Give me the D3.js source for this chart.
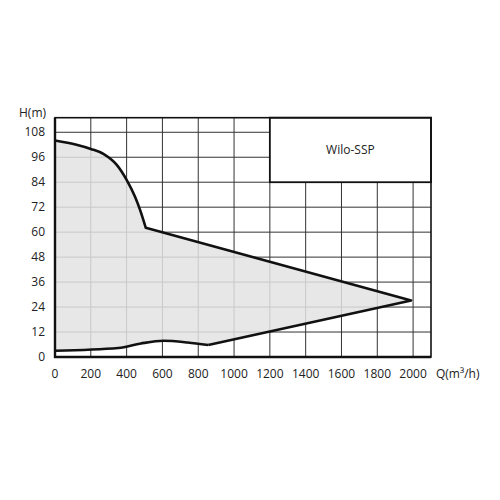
<!DOCTYPE html>
<html><head><meta charset="utf-8">
<script src="https://cdn.jsdelivr.net/npm/d3@7"></script>
<style>body{margin:0;background:#fff}svg{display:block}text{font-family:"Open Sans","DejaVu Sans",sans-serif;fill:#222}</style>
</head><body><svg id="c" width="500" height="500"></svg>
<script>
const xTicks = [0,200,400,600,800,1000,1200,1400,1600,1800,2000];
const yTicks = [0,12,24,36,48,60,72,84,96,108];
// upper envelope (Q, H)
const upperQ = [0, 120, 200, 270, 345, 400, 447, 475, 507, 1989];
const upperH = [104, 102, 100, 97.6, 92.3, 85.1, 77, 70.7, 62.1, 27.2];
// lower envelope, from the tip back to Q=0
const lowerQ = [1989, 856, 740, 605, 480, 354, 0];
const lowerH = [27.2, 5.8, 7.0, 7.8, 6.5, 4.3, 3.0];
const title = "Wilo-SSP";

const svg = d3.select("#c");
const x = d3.scaleLinear().domain([0,2100]).range([55,431]);
const y = d3.scaleLinear().domain([0,115]).range([357,117.7]);

// grid
svg.append("g").selectAll("line").data(xTicks.slice(1)).join("line")
  .attr("x1",d=>x(d)).attr("x2",d=>x(d)).attr("y1",y(0)).attr("y2",y(115))
  .attr("stroke","#333").attr("stroke-width",1);
svg.append("g").selectAll("line").data(yTicks.slice(1)).join("line")
  .attr("x1",x(0)).attr("x2",x(2100)).attr("y1",d=>y(d)).attr("y2",d=>y(d))
  .attr("stroke","#333").attr("stroke-width",1);

// area
const upper = upperQ.map((q,i)=>[q,upperH[i]]);
const lower = lowerQ.map((q,i)=>[q,lowerH[i]]);
const topLine = d3.line().x(d=>x(d[0])).y(d=>y(d[1])).curve(d3.curveMonotoneX);
const linLine = d3.line().x(d=>x(d[0])).y(d=>y(d[1]));
const topCurve = upper.slice(0, upper.length-1);
const tip = upper[upper.length-1];
const lowSmooth = lower.slice(1).slice().reverse(); // from Q=0 to 856
let dTop = topLine(topCurve) + "L" + x(tip[0]) + "," + y(tip[1]) + "L" + x(lower[1][0]) + "," + y(lower[1][1]);
const lowPath = d3.line().x(d=>x(d[0])).y(d=>y(d[1])).curve(d3.curveMonotoneX)(lowSmooth);
// fill polygon
const poly = upper.concat(lower);
svg.append("path")
  .attr("d", dTop + "L" + lowSmooth.slice().reverse().map(p=>x(p[0])+","+y(p[1])).join("L") + "Z")
  .attr("fill","#e3e3e3").attr("fill-opacity",0.85).attr("stroke","none");
svg.append("path").attr("d", dTop).attr("fill","none").attr("stroke","#111").attr("stroke-width",2.6).attr("stroke-linejoin","round");
svg.append("path").attr("d", lowPath).attr("fill","none").attr("stroke","#111").attr("stroke-width",2.6).attr("stroke-linejoin","round");

// legend box
svg.append("rect").attr("x",x(1200)).attr("y",y(115)).attr("width",x(2100)-x(1200)).attr("height",y(84)-y(115))
  .attr("fill","#fff").attr("stroke","#111").attr("stroke-width",1.8);
svg.append("text").attr("x",(x(1200)+x(2100))/2).attr("y",(y(115)+y(84))/2+4).attr("text-anchor","middle")
  .attr("font-size",12).text(title);

// frame
svg.append("rect").attr("x",x(0)).attr("y",y(115)).attr("width",x(2100)-x(0)).attr("height",y(0)-y(115))
  .attr("fill","none").attr("stroke","#111").attr("stroke-width",1.6);
svg.append("line").attr("x1",x(0)).attr("x2",x(0)).attr("y1",y(0)+1).attr("y2",y(115)).attr("stroke","#111").attr("stroke-width",2.4);
svg.append("line").attr("x1",x(0)-1).attr("x2",x(2100)).attr("y1",y(0)).attr("y2",y(0)).attr("stroke","#111").attr("stroke-width",2.4);

// tick labels
svg.append("g").selectAll("text").data(yTicks).join("text")
  .attr("x",45).attr("y",d=>y(d)+4).attr("text-anchor","end").attr("font-size",12).text(d=>d);
svg.append("g").selectAll("text").data(xTicks).join("text")
  .attr("x",d=>x(d)).attr("y",378).attr("text-anchor","middle").attr("font-size",12).text(d=>d);
svg.append("text").attr("x",19).attr("y",117).attr("font-size",12).text("H(m)");
svg.append("text").attr("x",436).attr("y",378).attr("font-size",12).text("Q(m³/h)");
</script></body></html>
